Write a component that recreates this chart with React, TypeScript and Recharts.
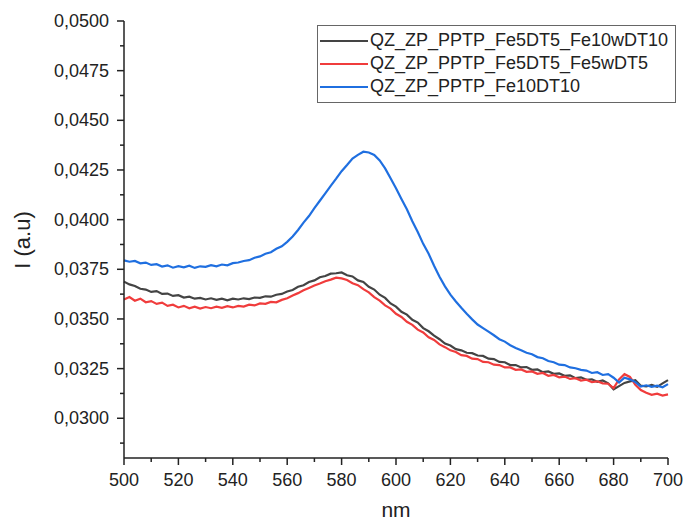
import React from "react";
import { LineChart, Line, XAxis, YAxis, Legend } from "recharts";

const FONT = "'Liberation Sans', Arial, sans-serif";
const INK = "#222";

const WAVELENGTH = [
  500, 502, 504, 506, 508, 510, 512, 514, 516, 518, 520, 522, 524, 526, 528, 530, 532, 534, 536, 538,
  540, 542, 544, 546, 548, 550, 552, 554, 556, 558, 560, 562, 564, 566, 568, 570, 572, 574, 576, 578,
  580, 582, 584, 586, 588, 590, 592, 594, 596, 598, 600, 602, 604, 606, 608, 610, 612, 614, 616, 618,
  620, 622, 624, 626, 628, 630, 632, 634, 636, 638, 640, 642, 644, 646, 648, 650, 652, 654, 656, 658,
  660, 662, 664, 666, 668, 670, 672, 674, 676, 678, 680, 682, 684, 686, 688, 690, 692, 694, 696, 698,
  700,
];

// QZ_ZP_PPTP_Fe5DT5_Fe10wDT10
const FE10W = [
  0.03688, 0.03674, 0.03666, 0.03652, 0.03648, 0.03636, 0.0364, 0.03626, 0.03628, 0.03616,
  0.0362, 0.03608, 0.03612, 0.03602, 0.03606, 0.03598, 0.03604, 0.03596, 0.03602, 0.03594,
  0.03602, 0.03598, 0.03604, 0.036, 0.03608, 0.03606, 0.03614, 0.03612, 0.03622, 0.03626,
  0.03638, 0.03646, 0.03662, 0.0367, 0.03686, 0.03694, 0.0371, 0.03716, 0.03728, 0.0373,
  0.03734, 0.0372, 0.03714, 0.03694, 0.03686, 0.03662, 0.03648, 0.03622, 0.03606, 0.03578,
  0.03562, 0.03536, 0.03522, 0.03496, 0.03482, 0.03454, 0.03438, 0.03416, 0.03398, 0.03376,
  0.03366, 0.03348, 0.03342, 0.0333, 0.03328, 0.03316, 0.03314, 0.033, 0.03298, 0.03284,
  0.03282, 0.03268, 0.03268, 0.03256, 0.03258, 0.03244, 0.03246, 0.03232, 0.03236, 0.03224,
  0.03226, 0.03214, 0.03216, 0.03202, 0.03206, 0.03194, 0.03196, 0.03184, 0.0319, 0.03176,
  0.03146, 0.03162, 0.03178, 0.03186, 0.03192, 0.03164, 0.0316, 0.03168, 0.03158, 0.03176,
  0.03192,
];

// QZ_ZP_PPTP_Fe5DT5_Fe5wDT5
const FE5W = [
  0.03598, 0.0361, 0.03592, 0.03602, 0.03584, 0.0359, 0.03576, 0.03582, 0.03566, 0.03572,
  0.03558, 0.03566, 0.03554, 0.03562, 0.03552, 0.0356, 0.03554, 0.03562, 0.03556, 0.03564,
  0.03558, 0.03566, 0.03562, 0.03572, 0.03568, 0.03578, 0.03576, 0.03586, 0.03584, 0.03596,
  0.03604, 0.03618, 0.0363, 0.03644, 0.03656, 0.03668, 0.03678, 0.0369, 0.03698, 0.03708,
  0.03704, 0.03696, 0.0368, 0.0367, 0.0365, 0.03634, 0.0361, 0.03592, 0.03568, 0.03552,
  0.03526, 0.0351, 0.03486, 0.0347, 0.03446, 0.03432, 0.03408, 0.03394, 0.03372, 0.03358,
  0.03342, 0.03334, 0.03318, 0.03314, 0.033, 0.03298, 0.03284, 0.03282, 0.0327, 0.03268,
  0.03256, 0.03256, 0.03244, 0.03246, 0.03234, 0.03236, 0.03224, 0.03228, 0.03214, 0.03218,
  0.03206, 0.0321, 0.03198, 0.03202, 0.0319, 0.03194, 0.03182, 0.03186, 0.03176, 0.03174,
  0.03152, 0.03196, 0.03222, 0.03208, 0.03168, 0.03142, 0.03128, 0.03118, 0.03124, 0.03114,
  0.0312,
];

// QZ_ZP_PPTP_Fe10DT10
const FE10 = [
  0.03795, 0.03788, 0.03792, 0.0378, 0.03784, 0.03772, 0.03776, 0.03764, 0.0377, 0.03758,
  0.03766, 0.0376, 0.03768, 0.03757, 0.03765, 0.03762, 0.03771, 0.03765, 0.03774, 0.0377,
  0.03781, 0.03784, 0.03792, 0.03796, 0.03808, 0.03815, 0.03828, 0.03836, 0.03853, 0.03866,
  0.03888, 0.03915, 0.03948, 0.03985, 0.04018, 0.04058, 0.04095, 0.04132, 0.0417, 0.04206,
  0.04244, 0.04275, 0.04308, 0.04326, 0.04342, 0.04338, 0.04326, 0.04298, 0.04258, 0.04208,
  0.04158, 0.04104, 0.04052, 0.03992, 0.03938, 0.03878, 0.03828, 0.03768, 0.03712, 0.03664,
  0.03622, 0.03588, 0.03556, 0.03526, 0.03498, 0.03472, 0.03454, 0.03436, 0.03418, 0.03398,
  0.03386, 0.03368, 0.03354, 0.03342, 0.0333, 0.03322, 0.03308, 0.03302, 0.03288, 0.03282,
  0.0327, 0.03268, 0.03256, 0.03252, 0.03244, 0.0324, 0.03228, 0.03232, 0.03218, 0.03222,
  0.03204, 0.0318, 0.03204, 0.03196, 0.03182, 0.0316, 0.03166, 0.03158, 0.03164, 0.03156,
  0.03172,
];

const SERIES = [
  { key: "fe10w", name: "QZ_ZP_PPTP_Fe5DT5_Fe10wDT10", color: "#444444", values: FE10W },
  { key: "fe5w", name: "QZ_ZP_PPTP_Fe5DT5_Fe5wDT5", color: "#f03c3c", values: FE5W },
  { key: "fe10", name: "QZ_ZP_PPTP_Fe10DT10", color: "#1f6fe0", values: FE10 },
];

const X_TICKS = [500, 510, 520, 530, 540, 550, 560, 570, 580, 590, 600, 610, 620, 630, 640, 650, 660, 670, 680, 690, 700];
const X_MAJOR = [500, 520, 540, 560, 580, 600, 620, 640, 660, 680, 700];
const Y_TICKS = [
  0.02875, 0.03, 0.03125, 0.0325, 0.03375, 0.035, 0.03625, 0.0375, 0.03875, 0.04,
  0.04125, 0.0425, 0.04375, 0.045, 0.04625, 0.0475, 0.04875, 0.05,
];
const Y_MAJOR = [0.03, 0.0325, 0.035, 0.0375, 0.04, 0.0425, 0.045, 0.0475, 0.05];

const data = WAVELENGTH.map((nm, i) => {
  const row: Record<string, number> = { nm };
  SERIES.forEach((s) => (row[s.key] = s.values[i]));
  return row;
});

function XTick({ x, y, payload }: any) {
  const major = X_MAJOR.includes(payload.value);
  return (
    <g>
      <line x1={x} x2={x} y1={y} y2={y + (major ? 7 : 4)} stroke={INK} strokeWidth={1.5} />
      {major && (
        <text x={x} y={y + 28} textAnchor="middle" fontSize={18} fontFamily={FONT} fill={INK}>
          {payload.value}
        </text>
      )}
    </g>
  );
}

function YTick({ x, y, payload }: any) {
  const major = Y_MAJOR.some((m) => Math.abs(m - payload.value) < 1e-7);
  return (
    <g>
      <line x1={x - (major ? 7 : 4)} x2={x} y1={y} y2={y} stroke={INK} strokeWidth={1.5} />
      {major && (
        <text x={x - 15} y={y + 6} textAnchor="end" fontSize={18} fontFamily={FONT} fill={INK}>
          {payload.value.toFixed(4).replace(".", ",")}
        </text>
      )}
    </g>
  );
}

function LegendBox() {
  return (
    <div
      style={{
        border: "1px solid #666",
        background: "#fff",
        width: 357,
        padding: "3px 0 4px 0",
        fontFamily: FONT,
        fontSize: 18,
        color: INK,
      }}
    >
      {SERIES.map((s) => (
        <div key={s.key} style={{ display: "flex", alignItems: "center", height: 23 }}>
          <span style={{ display: "inline-block", width: 48, height: 2, background: s.color, marginLeft: 2, marginRight: 2 }} />
          <span>{s.name}</span>
        </div>
      ))}
    </div>
  );
}

export default function App() {
  return (
    <div style={{ position: "absolute", left: 0, top: 0, width: 685, height: 524, background: "#fff" }}>
      <LineChart width={685} height={524} data={data} margin={{ top: 21, right: 17, bottom: 0, left: 0 }}>
        <XAxis
          dataKey="nm"
          type="number"
          domain={[500, 700]}
          ticks={X_TICKS}
          interval={0}
          height={66}
          tickSize={0}
          tickMargin={0}
          tickLine={false}
          axisLine={{ stroke: INK, strokeWidth: 1.5 }}
          tick={<XTick />}
          label={{
            content: () => (
              <text x={396} y={517} textAnchor="middle" fontSize={21} fontFamily={FONT} fill={INK}>
                nm
              </text>
            ),
          }}
        />
        <YAxis
          type="number"
          domain={[0.028, 0.05]}
          ticks={Y_TICKS}
          interval={0}
          width={124}
          tickSize={0}
          tickMargin={0}
          tickLine={false}
          allowDataOverflow
          axisLine={{ stroke: INK, strokeWidth: 1.5 }}
          tick={<YTick />}
          label={{
            content: () => (
              <text
                x={22}
                y={240}
                transform="rotate(-90 22 240)"
                textAnchor="middle"
                dominantBaseline="central"
                fontSize={22}
                fontFamily={FONT}
                fill={INK}
              >
                I (a.u)
              </text>
            ),
          }}
        />
        <Legend
          layout="vertical"
          align="center"
          verticalAlign="middle"
          wrapperStyle={{ left: 317, top: 25, width: 359 }}
          content={() => <LegendBox />}
        />
        {SERIES.map((s) => (
          <Line
            key={s.key}
            dataKey={s.key}
            name={s.name}
            stroke={s.color}
            strokeWidth={2.2}
            dot={false}
            type="linear"
            isAnimationActive={false}
          />
        ))}
      </LineChart>
    </div>
  );
}
